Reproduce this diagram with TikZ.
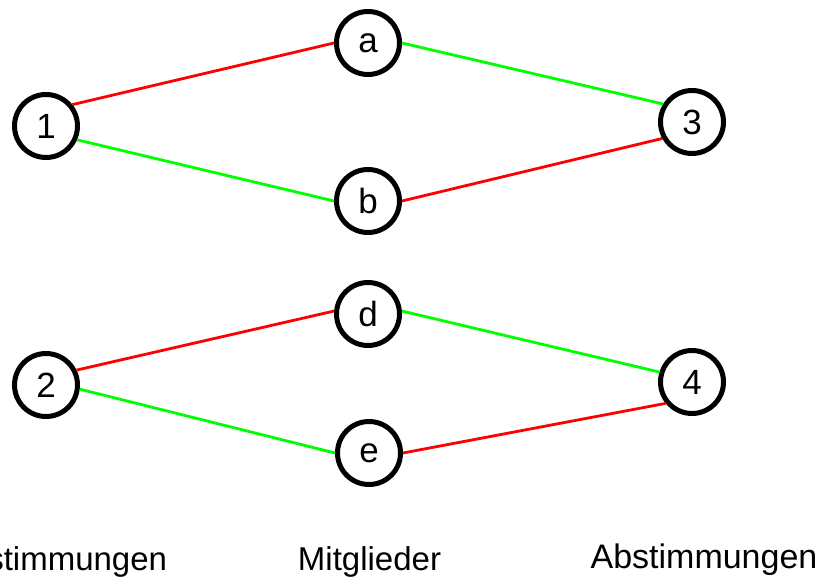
\documentclass[tikz,border=0pt]{standalone}
\usepackage{fontspec}
\setmainfont{Liberation Sans}
\usepackage{tikz}

\begin{document}
\begin{tikzpicture}[x=1pt,y=-1pt,
	member/.style={circle,draw=black,fill=white,line width=5pt,minimum size=63pt,inner sep=0pt,font=\fontsize{35}{40}\selectfont},
	yes/.style={draw=red,line width=2.8pt},
	no/.style={draw=green,line width=2.8pt},
	caption/.style={anchor=base,inner sep=0pt,font=\fontsize{33}{38}\selectfont}]
	\useasboundingbox (0,0) rectangle (819,577);
	\clip (0,0) rectangle (819,577);
	\node[member] (n1) at (46,126) {1};
	\node[member] (n2) at (46,385) {2};
	\node[member] (na) at (368,43) {a};
	\node[member] (nb) at (368,201) {b};
	\node[member] (nd) at (368,314) {d};
	\node[member] (ne) at (369,453) {e};
	\node[member] (n3) at (692,122) {3};
	\node[member] (n4) at (692,382) {4};
	\draw[yes] (n1.39) -- (na.180);
	\draw[no] (n1.-24) -- (nb.180);
	\draw[no] (na.0) -- (n3.148);
	\draw[yes] (nb.0) -- (n3.209);
	\draw[yes] (n2.26) -- (nd.175);
	\draw[no] (n2.-7) -- (ne.180);
	\draw[no] (nd.5) -- (n4.163);
	\draw[yes] (ne.0) -- (n4.219);
	\node[caption] (left) at (57,570) {Abstimmungen};
	\node[caption] (middle) at (369.5,570) {Mitglieder};
	\node[caption,font=\fontsize{34}{40}\selectfont] (right) at (704,568) {Abstimmungen};
\end{tikzpicture}
\end{document}
